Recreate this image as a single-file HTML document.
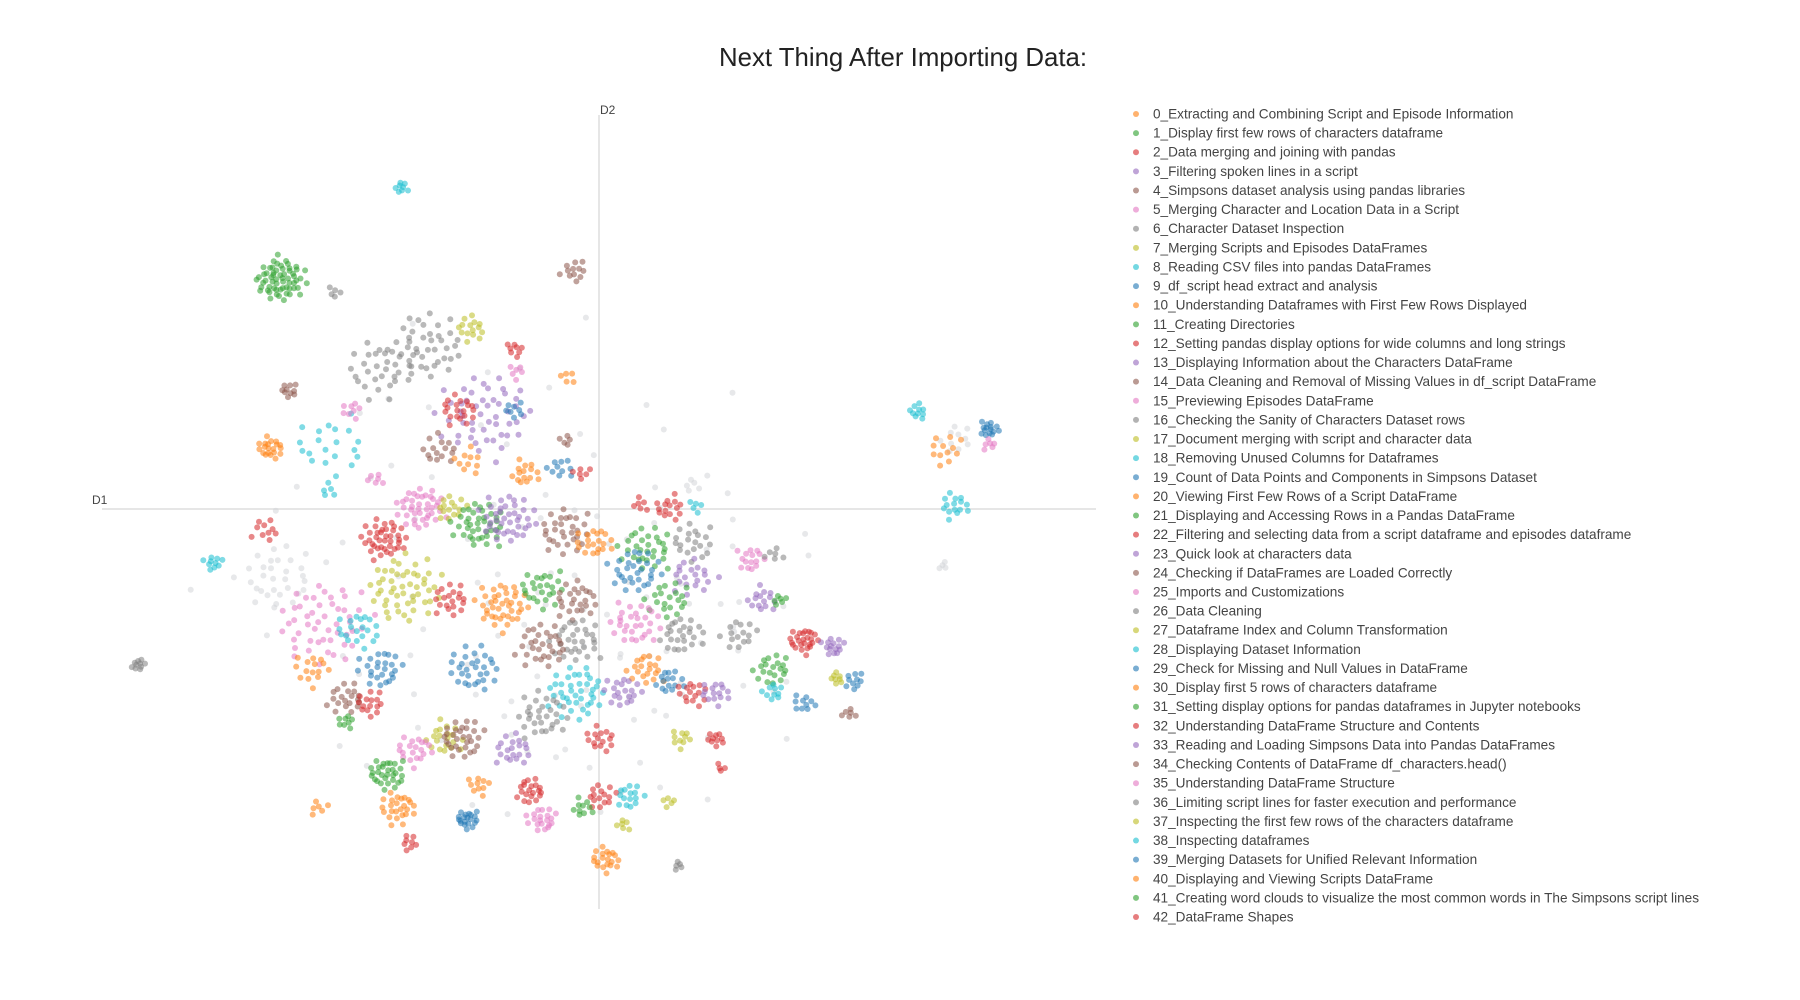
<!DOCTYPE html>
<html>
<head>
<meta charset="utf-8">
<style>
html,body{margin:0;padding:0;background:#fff;}
svg{display:block;font-family:"Liberation Sans",Arial,sans-serif;}
</style>
</head>
<body>
<svg id="chart" width="1800" height="1000" viewBox="0 0 1800 1000" xmlns="http://www.w3.org/2000/svg">
  <rect x="0" y="0" width="1800" height="1000" fill="#fff"/>
  <text x="903" y="66" text-anchor="middle" font-size="25.8" fill="#222">Next Thing After Importing Data:</text>
  <line x1="102" y1="509" x2="1096" y2="509" stroke="#e6e6e6" stroke-width="2"/>
  <line x1="599" y1="115" x2="599" y2="909" stroke="#e6e6e6" stroke-width="2"/>
  <text x="92" y="504" font-size="12" fill="#444">D1</text>
  <text x="600" y="114" font-size="12" fill="#444">D2</text>
  <g id="points"></g>
  <g id="legend"></g>
</svg>
<script>
// Topic names (legend)
const topicNames = [
"0_Extracting and Combining Script and Episode Information",
"1_Display first few rows of characters dataframe",
"2_Data merging and joining with pandas",
"3_Filtering spoken lines in a script",
"4_Simpsons dataset analysis using pandas libraries",
"5_Merging Character and Location Data in a Script",
"6_Character Dataset Inspection",
"7_Merging Scripts and Episodes DataFrames",
"8_Reading CSV files into pandas DataFrames",
"9_df_script head extract and analysis",
"10_Understanding Dataframes with First Few Rows Displayed",
"11_Creating Directories",
"12_Setting pandas display options for wide columns and long strings",
"13_Displaying Information about the Characters DataFrame",
"14_Data Cleaning and Removal of Missing Values in df_script DataFrame",
"15_Previewing Episodes DataFrame",
"16_Checking the Sanity of Characters Dataset rows",
"17_Document merging with script and character data",
"18_Removing Unused Columns for Dataframes",
"19_Count of Data Points and Components in Simpsons Dataset",
"20_Viewing First Few Rows of a Script DataFrame",
"21_Displaying and Accessing Rows in a Pandas DataFrame",
"22_Filtering and selecting data from a script dataframe and episodes dataframe",
"23_Quick look at characters data",
"24_Checking if DataFrames are Loaded Correctly",
"25_Imports and Customizations",
"26_Data Cleaning",
"27_Dataframe Index and Column Transformation",
"28_Displaying Dataset Information",
"29_Check for Missing and Null Values in DataFrame",
"30_Display first 5 rows of characters dataframe",
"31_Setting display options for pandas dataframes in Jupyter notebooks",
"32_Understanding DataFrame Structure and Contents",
"33_Reading and Loading Simpsons Data into Pandas DataFrames",
"34_Checking Contents of DataFrame df_characters.head()",
"35_Understanding DataFrame Structure",
"36_Limiting script lines for faster execution and performance",
"37_Inspecting the first few rows of the characters dataframe",
"38_Inspecting dataframes",
"39_Merging Datasets for Unified Relevant Information",
"40_Displaying and Viewing Scripts DataFrame",
"41_Creating word clouds to visualize the most common words in The Simpsons script lines",
"42_DataFrame Shapes"
];
// Cluster data (D1, D2 coordinates; category color index; point count; spread)
const clX = [-171,-276,-229,-21,-269,-285,-234,-149,-111,-189,-73,-72,-27,-99,-121,-139,-114,-214,-194,-234,-74,-64,-34,-14,-29,276,299,338,338,311,309,299,-154,-129,-186,-289,-334,-399,61,-104,-79,-29,-4,41,31,81,81,61,-169,-239,-279,-209,-249,-129,-189,-109,-84,-49,-19,-19,-19,31,71,41,21,-49,61,81,101,-219,-199,-219,-134,-119,-159,-74,1,-49,71,-184,-174,-164,-244,-114,-104,-59,-49,1,26,61,6,69,-14,21,101,106,121,131,141,151,156,151,178,203,206,221,151,178,216,81,84,36,-69,31];
const clY = [279,199,188,206,103,53,56,141,156,121,139,119,115,81,86,51,41,86,26,16,86,31,36,31,59,84,51,69,56,61,3,-49,1,1,-26,-19,-47,-135,1,-14,-9,-19,-29,-34,-54,-29,-59,-79,-69,-99,-59,-104,-139,-79,-139,-139,-84,-69,-79,-114,-159,-99,-109,-139,-159,-119,-149,-159,-159,-164,-169,-184,-199,-199,-209,-209,-199,-179,-199,-229,-259,-289,-259,-269,-239,-244,-269,-249,-249,-254,-304,-309,-259,-274,-199,-224,-109,-44,-79,-39,-79,-139,-114,-119,-147,-149,-159,-169,-177,21,3,3,-59,-119];
const clCat = [8,1,6,4,4,0,8,6,7,6,2,5,0,3,2,4,0,5,5,8,9,0,9,2,4,8,0,9,5,-1,8,-1,5,7,2,2,8,6,2,1,3,4,0,1,9,6,3,1,7,5,-1,8,0,2,9,9,0,1,4,6,8,5,6,0,3,4,9,2,3,4,2,1,7,4,5,3,2,6,7,1,0,2,0,9,0,2,5,2,8,7,0,6,1,7,2,2,6,5,3,6,1,1,2,3,7,9,8,9,4,-1,8,2,-1,-1];
const clN = [8,60,5,12,10,20,20,40,15,30,8,6,5,50,20,15,10,8,6,5,8,15,10,6,5,10,12,15,6,10,15,4,40,15,40,10,10,10,15,40,40,30,20,30,30,20,20,20,50,50,30,20,15,20,25,30,40,25,25,30,40,30,25,20,20,30,15,15,15,20,15,8,20,30,20,20,15,30,10,30,25,8,6,20,10,20,20,15,15,5,20,5,10,6,10,4,15,15,15,6,6,20,25,15,8,10,10,10,6,5,5,6,80,40];
const clSpread = [4,13,4,7,5,7,20,20,8,18,5,5,5,25,10,10,8,6,5,5,6,8,7,5,4,5,10,5,4,10,8,3,13,8,12,8,5,4,8,14,15,14,10,14,14,12,12,12,20,25,20,12,10,10,12,14,14,12,12,14,16,14,12,10,10,14,8,8,8,10,8,5,10,12,10,10,8,14,6,10,10,5,5,6,6,8,8,8,8,4,8,3,6,4,5,3,10,8,8,5,4,10,8,6,4,6,6,6,4,5,4,5,150,100];

const palette = ["#ff7f0e","#2ca02c","#d62728","#9467bd","#8c564b","#e377c2","#7f7f7f","#bcbd22","#17becf","#1f77b4"];
const outlierColor = "#cfd2d6";
const SCALE = 1/0.8667;
function xPx(d){ return 599 + d*SCALE; }
function yPx(d){ return 509 - d*SCALE; }

const NS = "http://www.w3.org/2000/svg";
const gp = document.getElementById("points");
const order = [];
for (let c=0;c<clX.length;c++) if (clCat[c] < 0) order.push(c);
for (let c=0;c<clX.length;c++) if (clCat[c] >= 0) order.push(c);
order.forEach(function(c){
  const n = clN[c];
  for (let k=0;k<n;k++){
    const wob = 0.75 + 0.5*(((k*37 + c*11) % 17)/16);
    const r = clSpread[c]*1.45*Math.sqrt((k+0.5)/n)*wob;
    const a = k*2.39996 + c*0.7;
    const dx = clX[c] + r*Math.cos(a)*1.1;
    const dy = clY[c] + r*Math.sin(a)*0.95;
    const p = document.createElementNS(NS,"circle");
    p.setAttribute("cx", xPx(dx).toFixed(1));
    p.setAttribute("cy", yPx(dy).toFixed(1));
    p.setAttribute("r", 3);
    p.setAttribute("fill", clCat[c] < 0 ? outlierColor : palette[clCat[c]]);
    p.setAttribute("fill-opacity", clCat[c] < 0 ? 0.5 : 0.55);
    
    
    gp.appendChild(p);
  }
});

const gl = document.getElementById("legend");
topicNames.forEach(function(name,i){
  const y = 114 + i*19.12;
  const g = document.createElementNS(NS,"g");
  
  
  const m = document.createElementNS(NS,"circle");
  m.setAttribute("cx",1136); m.setAttribute("cy",y);
  m.setAttribute("r",3); m.setAttribute("fill",palette[i%10]); m.setAttribute("fill-opacity",0.6);
  
  
  const t = document.createElementNS(NS,"text");
  t.setAttribute("x",1153); t.setAttribute("y",y+4.5);
  t.setAttribute("font-size",13.6); t.setAttribute("fill","#444");
  t.textContent = name;
  
  
  g.appendChild(m); g.appendChild(t);
  gl.appendChild(g);
});
</script>
</body>
</html>
